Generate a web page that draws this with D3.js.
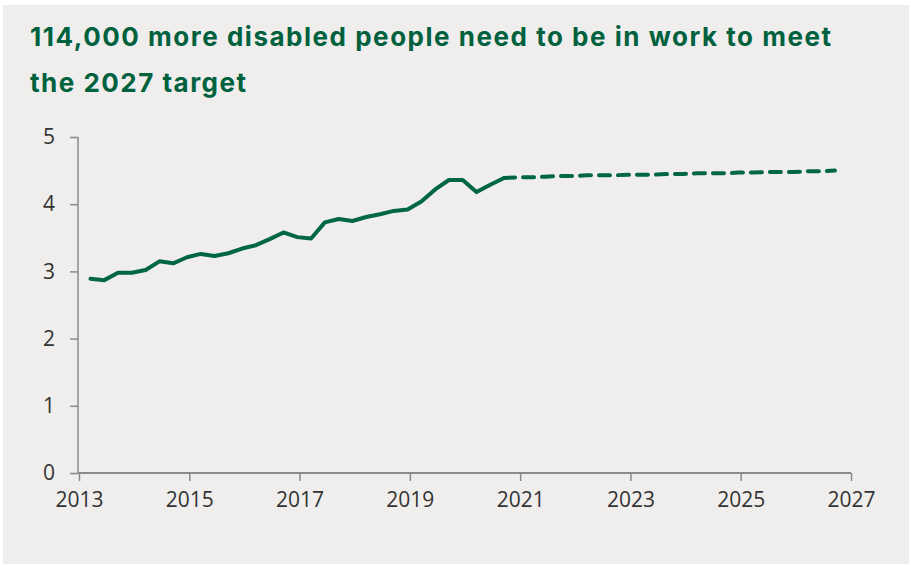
<!DOCTYPE html>
<html>
<head>
<meta charset="utf-8">
<script src="https://cdn.jsdelivr.net/npm/d3@7"></script>
<style>
  html, body { margin: 0; padding: 0; background: #ffffff; }
  svg { display: block; }
</style>
</head>
<body>
<svg id="chart" width="911" height="565"></svg>
<script>
// Disabled people in employment (millions), quarterly
const actualPeriods = [
  "2013 Q1","2013 Q2","2013 Q3","2013 Q4",
  "2014 Q1","2014 Q2","2014 Q3","2014 Q4",
  "2015 Q1","2015 Q2","2015 Q3","2015 Q4",
  "2016 Q1","2016 Q2","2016 Q3","2016 Q4",
  "2017 Q1","2017 Q2","2017 Q3","2017 Q4",
  "2018 Q1","2018 Q2","2018 Q3","2018 Q4",
  "2019 Q1","2019 Q2","2019 Q3","2019 Q4",
  "2020 Q1","2020 Q2","2020 Q3"
];
const actualValues = [
  2.89, 2.87, 2.98, 2.98,
  3.02, 3.15, 3.12, 3.21,
  3.26, 3.23, 3.27, 3.34,
  3.39, 3.48, 3.58, 3.51,
  3.49, 3.73, 3.78, 3.75,
  3.81, 3.85, 3.90, 3.92,
  4.04, 4.22, 4.36, 4.36,
  4.18, 4.29, 4.39
];

// Path needed to reach the 2027 target
const targetPeriods = [
  "2020 Q3","2020 Q4",
  "2021 Q1","2021 Q2","2021 Q3","2021 Q4",
  "2022 Q1","2022 Q2","2022 Q3","2022 Q4",
  "2023 Q1","2023 Q2","2023 Q3","2023 Q4",
  "2024 Q1","2024 Q2","2024 Q3","2024 Q4",
  "2025 Q1","2025 Q2","2025 Q3","2025 Q4",
  "2026 Q1","2026 Q2","2026 Q3"
];
const targetValues = [
  4.39, 4.40,
  4.40, 4.41, 4.42, 4.42,
  4.43, 4.43, 4.43, 4.44,
  4.44, 4.44, 4.45, 4.45,
  4.46, 4.46, 4.46, 4.47,
  4.47, 4.48, 4.48, 4.48,
  4.49, 4.49, 4.50
];

const yearTicks = [2013, 2015, 2017, 2019, 2021, 2023, 2025, 2027];
const valueTicks = [0, 1, 2, 3, 4, 5];
const titleLines = [
  "114,000 more disabled people need to be in work to meet",
  "the 2027 target"
];
const titleWidths = [801, 216];

// Place each quarter in the middle of its final month
function periodToYear(p) {
  const [y, q] = p.split(" Q");
  return +y + (3 * +q - 0.5) / 12;
}

const green = "#006643";
const axisGrey = "#8a8a8a";
const svg = d3.select("#chart");

// Panel background
svg.append("rect")
  .attr("x", 3).attr("y", 5)
  .attr("width", 906).attr("height", 559)
  .attr("fill", "#efeeec");

// Title
svg.append("g").selectAll("text")
  .data(titleLines)
  .join("text")
  .attr("x", 30)
  .attr("y", (d, i) => 46 + i * 45.5)
  .attr("fill", "#00613f")
  .attr("font-family", "Inter, Lato, 'Noto Sans', sans-serif")
  .attr("font-weight", 700)
  .attr("font-size", 26)
  .attr("textLength", (d, i) => titleWidths[i])
  .attr("lengthAdjust", "spacing")
  .text(d => d);

const x = d3.scaleLinear().domain([2013, 2027]).range([79, 851]);
const y = d3.scaleLinear().domain([0, 5]).range([473, 137]);

const tickFont = "'Open Sans', 'Noto Sans', sans-serif";

// Y axis
const yAxis = svg.append("g")
  .attr("transform", `translate(${x(2013) - 1},0)`)
  .call(d3.axisLeft(y).tickValues(valueTicks).tickSize(8).tickPadding(15).tickFormat(d3.format("d")));
yAxis.select(".domain").attr("stroke", axisGrey).attr("stroke-width", 1.5)
  .attr("d", `M0,${y(5)}V${y(0)}`);
yAxis.selectAll(".tick line").attr("stroke", axisGrey).attr("stroke-width", 1.5);
yAxis.selectAll(".tick text")
  .attr("fill", "#333333")
  .attr("font-family", tickFont)
  .attr("font-size", 21);

// X axis
const xAxis = svg.append("g")
  .attr("transform", `translate(0,${y(0)})`)
  .call(d3.axisBottom(x).tickValues(yearTicks).tickSize(8).tickPadding(11).tickFormat(d3.format("d")));
xAxis.select(".domain").attr("stroke", axisGrey).attr("stroke-width", 2)
  .attr("d", `M${x(2013) - 1},0H${x(2027)}`);
xAxis.selectAll(".tick line").attr("stroke", axisGrey).attr("stroke-width", 1.5);
xAxis.selectAll(".tick text")
  .attr("fill", "#333333")
  .attr("font-family", tickFont)
  .attr("font-size", 21);

const line = d3.line()
  .x(d => x(periodToYear(d[0])))
  .y(d => y(d[1]));

// Projected path to target (dashed)
svg.append("path")
  .datum(d3.zip(targetPeriods, targetValues))
  .attr("fill", "none")
  .attr("stroke", green)
  .attr("stroke-width", 4)
  .attr("stroke-linecap", "round")
  .attr("stroke-dasharray", "11,8")
  .attr("d", line);

// Actual series (solid)
svg.append("path")
  .datum(d3.zip(actualPeriods, actualValues))
  .attr("fill", "none")
  .attr("stroke", green)
  .attr("stroke-width", 4)
  .attr("stroke-linejoin", "round")
  .attr("stroke-linecap", "round")
  .attr("d", line);
</script>
</body>
</html>
